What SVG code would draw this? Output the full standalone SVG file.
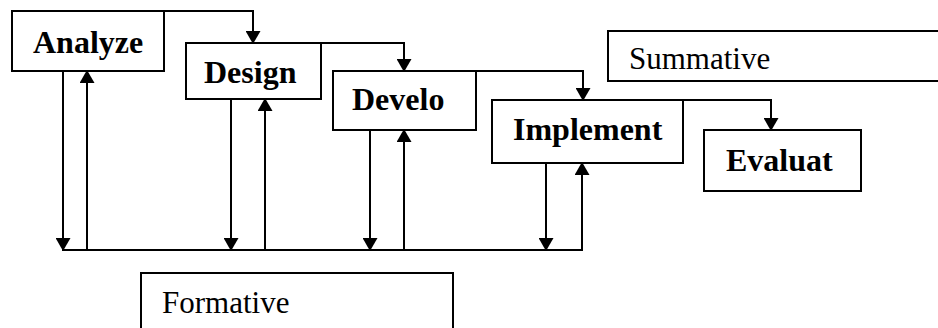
<svg xmlns="http://www.w3.org/2000/svg" width="938" height="328" viewBox="0 0 938 328">
<defs>
<style>
.box{fill:#fff;stroke:#000;stroke-width:2}
.lbl{font-family:"Liberation Serif","Times New Roman",serif;font-size:32px;font-weight:bold;fill:#000}
.plain{font-family:"Liberation Serif","Times New Roman",serif;font-size:31px;fill:#000}
.ln{fill:none;stroke:#000;stroke-width:2}
</style>
<marker id="ah" markerWidth="13" markerHeight="15" refX="12" refY="7.5" orient="auto" markerUnits="userSpaceOnUse" viewBox="0 0 13 15">
<path d="M0,0 L13,7.5 L0,15 Z" fill="#000"/>
</marker>
</defs>
<rect width="938" height="328" fill="#fff"/>
<g id="connectors">
<polyline class="ln" points="164,11 253,11 253,43" marker-end="url(#ah)"/>
<polyline class="ln" points="321,43 404,43 404,71" marker-end="url(#ah)"/>
<polyline class="ln" points="476,71 583,71 583,100" marker-end="url(#ah)"/>
<polyline class="ln" points="683,100 771,100 771,130" marker-end="url(#ah)"/>
<line class="ln" x1="62" y1="250" x2="583" y2="250"/>
<line class="ln" x1="63" y1="71" x2="63" y2="250" marker-end="url(#ah)"/>
<line class="ln" x1="87" y1="250" x2="87" y2="71" marker-end="url(#ah)"/>
<line class="ln" x1="231" y1="99" x2="231" y2="250" marker-end="url(#ah)"/>
<line class="ln" x1="265" y1="250" x2="265" y2="99" marker-end="url(#ah)"/>
<line class="ln" x1="370" y1="130" x2="370" y2="250" marker-end="url(#ah)"/>
<line class="ln" x1="404" y1="250" x2="404" y2="130" marker-end="url(#ah)"/>
<line class="ln" x1="546" y1="163" x2="546" y2="250" marker-end="url(#ah)"/>
<line class="ln" x1="582" y1="250" x2="582" y2="163" marker-end="url(#ah)"/>
</g>
<g id="analyze"><rect class="box" x="12" y="11" width="152" height="60"/><text class="lbl" x="33" y="53">Analyze</text></g>
<g id="design"><rect class="box" x="186" y="43" width="135" height="56"/><text class="lbl" x="204" y="83">Design</text></g>
<g id="develop"><rect class="box" x="333" y="71" width="143" height="59"/><text class="lbl" x="352" y="110">Develo</text></g>
<g id="implement"><rect class="box" x="492" y="100" width="191" height="63"/><text class="lbl" x="513" y="140">Implement</text></g>
<g id="evaluate"><rect class="box" x="704" y="130" width="157" height="61"/><text class="lbl" x="726" y="171">Evaluat</text></g>
<g id="summative"><rect class="box" x="608" y="31" width="340" height="50"/><text class="plain" x="629" y="69">Summative</text></g>
<g id="formative"><rect class="box" x="141" y="273" width="312" height="70"/><text class="plain" x="162" y="313">Formative</text></g>
</svg>
